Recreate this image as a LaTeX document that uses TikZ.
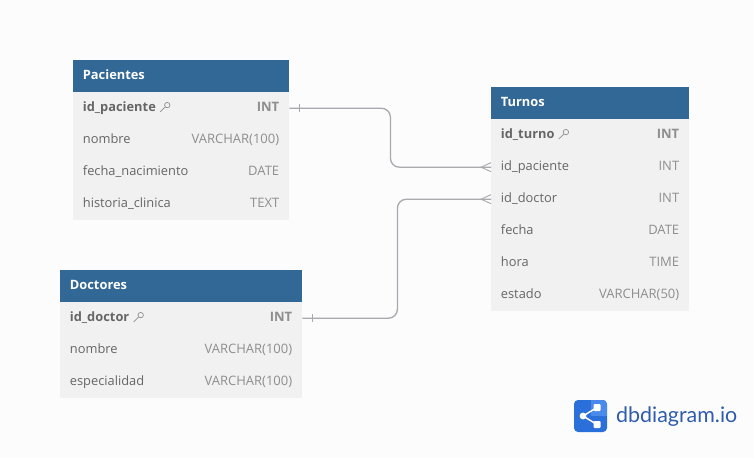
\documentclass[tikz,border=0pt]{standalone}
\usepackage{fontspec}
\setmainfont{Open Sans}
\newfontfamily\logofont{Lato}
\definecolor{hdr}{HTML}{316896}
\definecolor{rowbg}{HTML}{F1F1F1}
\definecolor{pagebg}{HTML}{FCFCFD}
\definecolor{txt}{HTML}{666666}
\definecolor{typ}{HTML}{8E8E8E}
\definecolor{conn}{HTML}{A9A9AE}
\definecolor{logoA}{HTML}{2B6FDB}
\definecolor{logoB}{HTML}{4A8AEA}
\definecolor{logotxt}{HTML}{2F5DAE}
\newcommand{\bodysize}{\fontsize{12.85}{13}\selectfont}
\newcommand{\typesize}{\fontsize{13}{13}\selectfont}
\tikzset{
  x=1pt,y=-1pt,
  header/.style={fill=hdr,anchor=north west,minimum height=32pt,inner sep=0pt},
  titletext/.style={anchor=base west,inner sep=0pt,text=white,font=\bodysize\bfseries},
  rowbox/.style={fill=rowbg,anchor=north west,minimum height=32pt,inner sep=0pt},
  fieldname/.style={anchor=base west,text=txt,inner sep=0pt,font=\bodysize},
  pkname/.style={fieldname,font=\bodysize\bfseries},
  fieldtype/.style={anchor=base east,text=typ,inner sep=0pt,font=\typesize},
  pktype/.style={fieldtype,font=\typesize\bfseries},
  relation/.style={draw=conn,line width=1.3pt,rounded corners=9pt},
  relmark/.style={draw=conn,line width=0.9pt},
  keyicon/.style={draw=typ,line width=0.7pt},
}
% #1 name, #2 x, #3 y, #4 width, #5 field, #6 type, #7 field style, #8 type style
\newcommand{\tablerow}[8]{%
  \node[rowbox,minimum width=#4pt] (#1) at (#2,#3) {};
  \node[#7] (#1f) at ([xshift=9.7pt,yshift=-3.5pt]#1.west) {#5};
  \node[#8] (#1t) at ([xshift=-10pt,yshift=-3.5pt]#1.east) {#6};
}
\newcommand{\keymark}[1]{%
  \draw[keyicon] ([xshift=11.2pt,yshift=6.6pt]#1.base east) circle (2.7pt);
  \draw[keyicon] ([xshift=9.1pt,yshift=4.6pt]#1.base east) -- ([xshift=4.1pt,yshift=-0.2pt]#1.base east) -- ([xshift=5.1pt,yshift=0.8pt]#1.base east);
}
\begin{document}
\begin{tikzpicture}
\useasboundingbox[fill=pagebg] (0,0) rectangle (754,458);
% Pacientes
\node[header,minimum width=216pt] (phead) at (73,60) {};
\node[titletext] (ptitle) at ([xshift=9.7pt,yshift=-3pt]phead.west) {Pacientes};
\tablerow{p1}{73}{92}{216}{id\_paciente}{INT}{pkname}{pktype}
\tablerow{p2}{73}{124}{216}{nombre}{VARCHAR(100)}{fieldname}{fieldtype}
\tablerow{p3}{73}{156}{216}{fecha\_nacimiento}{DATE}{fieldname}{fieldtype}
\tablerow{p4}{73}{188}{216}{historia\_clinica}{TEXT}{fieldname}{fieldtype}
\keymark{p1f}
% Doctores
\node[header,minimum width=242pt] (dhead) at (60,270) {};
\node[titletext] (dtitle) at ([xshift=9.7pt,yshift=-3pt]dhead.west) {Doctores};
\tablerow{d1}{60}{302}{242}{id\_doctor}{INT}{pkname}{pktype}
\tablerow{d2}{60}{334}{242}{nombre}{VARCHAR(100)}{fieldname}{fieldtype}
\tablerow{d3}{60}{366}{242}{especialidad}{VARCHAR(100)}{fieldname}{fieldtype}
\keymark{d1f}
% Turnos
\node[header,minimum width=198pt] (thead) at (491,87) {};
\node[titletext] (ttitle) at ([xshift=9.7pt,yshift=-3pt]thead.west) {Turnos};
\tablerow{t1}{491}{119}{198}{id\_turno}{INT}{pkname}{pktype}
\tablerow{t2}{491}{151}{198}{id\_paciente}{INT}{fieldname}{fieldtype}
\tablerow{t3}{491}{183}{198}{id\_doctor}{INT}{fieldname}{fieldtype}
\tablerow{t4}{491}{215}{198}{fecha}{DATE}{fieldname}{fieldtype}
\tablerow{t5}{491}{247}{198}{hora}{TIME}{fieldname}{fieldtype}
\tablerow{t6}{491}{279}{198}{estado}{VARCHAR(50)}{fieldname}{fieldtype}
\keymark{t1f}
% Relations
\draw[relation] (p1.east) -- ++(101,0) |- (t2.west);
\draw[relation] (d1.east) -- ++(95,0) |- (t3.west);
\draw[relmark] ([xshift=10pt,yshift=4pt]p1.east) -- ([xshift=10pt,yshift=-4pt]p1.east);
\draw[relmark] ([xshift=10pt,yshift=4pt]d1.east) -- ([xshift=10pt,yshift=-4pt]d1.east);
\draw[relmark] ([yshift=4.5pt]t2.west) -- ([xshift=-10pt]t2.west) -- ([yshift=-4.5pt]t2.west);
\draw[relmark] ([yshift=4.5pt]t3.west) -- ([xshift=-10pt]t3.west) -- ([yshift=-4.5pt]t3.west);
% Logo
\fill[logoA,rounded corners=4pt] (574,400) rectangle (607,432);
\begin{scope}
\clip[rounded corners=4pt] (574,400) rectangle (607,432);
\fill[logoB] (590.5,400) rectangle (607,416);
\end{scope}
\coordinate (lc) at (583,416);
\coordinate (lu) at (597,407.5);
\coordinate (ld) at (597,424.5);
\draw[white,line width=1.5pt] (lu) -- (lc) -- (ld);
\fill[white] (lc) circle (3.4pt);
\fill[white,rounded corners=1pt] (593.5,404) rectangle (600.5,411);
\fill[white,rounded corners=1pt] (593.5,421) rectangle (600.5,428);
\node[anchor=west,inner sep=0pt,text=logotxt,font=\logofont\fontsize{21.4}{21}\selectfont] (logo) at (616,417) {dbdiagram.io};
\end{tikzpicture}
\end{document}
